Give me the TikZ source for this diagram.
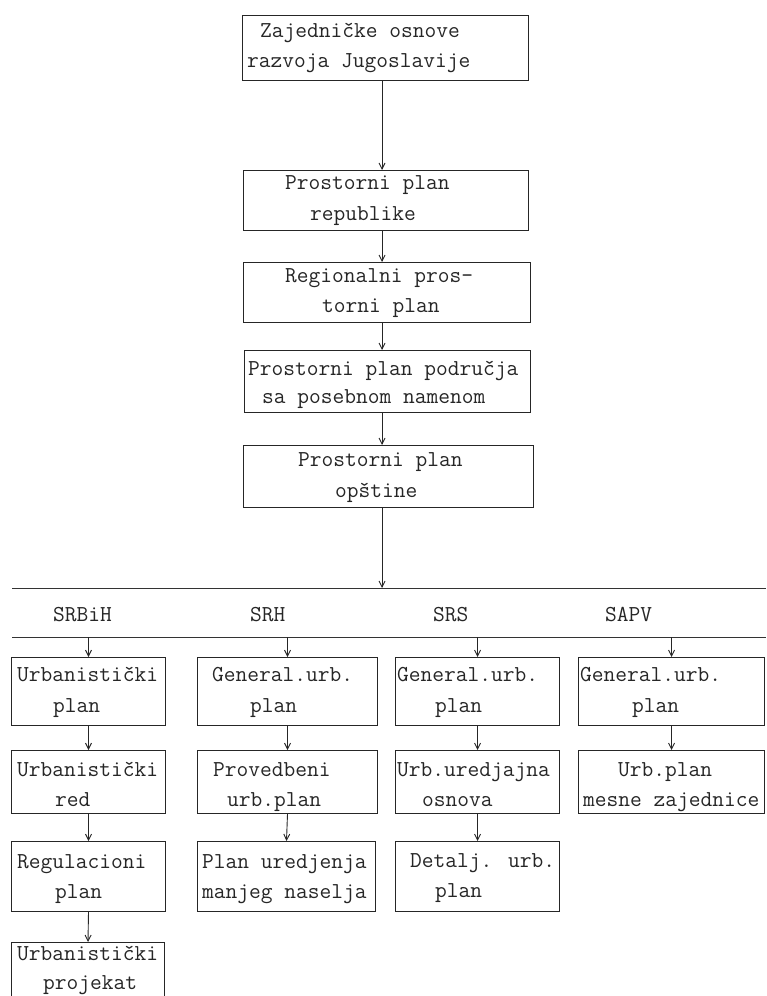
\documentclass[tikz,border=0pt]{standalone}
\usepackage{fontspec}
\usetikzlibrary{arrows.meta,calc}
\begin{document}
\begin{tikzpicture}[x=1pt,y=-1pt,
  box/.style={draw=black!85,line width=1pt,rectangle,inner sep=0pt,anchor=north west},
  txt/.style={anchor=base west,inner sep=0pt,text=black!85,font=\ttfamily\fontsize{22.8}{26}\selectfont},
  arr/.style={draw=black!85,line width=0.9pt,-{Straight Barb[length=6pt,width=6pt]}},
  rule/.style={draw=black!80,line width=1pt}]
\useasboundingbox (0,0) rectangle (766,996);
% top chain
\node[box,minimum width=286,minimum height=65] (b1) at (242,15) {};
\node[box,minimum width=285,minimum height=60] (b2) at (243,170) {};
\node[box,minimum width=287,minimum height=60] (b3) at (243,262) {};
\node[box,minimum width=286,minimum height=62] (b4) at (244,350) {};
\node[box,minimum width=290,minimum height=62] (b5) at (243,445) {};
\node[txt] (b1a) at (260,37) {Zajedničke osnove};
\node[txt] (b1b) at (247,67) {razvoja Jugoslavije};
\node[txt] (b2a) at (285,189) {Prostorni plan};
\node[txt] (b2b) at (310,220) {republike};
\node[txt] (b3a) at (285,282) {Regionalni pros-};
\node[txt] (b3b) at (322,312) {torni plan};
\node[txt] (b4a) at (248,375) {Prostorni plan područja};
\node[txt] (b4b) at (262,403) {sa posebnom namenom};
\node[txt] (b5a) at (298,466) {Prostorni plan};
\node[txt] (b5b) at (335,497) {opštine};
\coordinate (ax) at (382,0);
\draw[arr] (b1.south -| ax) -- (b2.north -| ax);
\draw[arr] (b2.south -| ax) -- (b3.north -| ax);
\draw[arr] (b3.south -| ax) -- (b4.north -| ax);
\draw[arr] (b4.south -| ax) -- (b5.north -| ax);
% rules
\coordinate (L1w) at (12,588);
\coordinate (L1e) at (766,588);
\coordinate (L2w) at (12,637);
\coordinate (L2e) at (766,637);
\draw[rule] (L1w) -- (L1e);
\draw[rule] (L2w) -- (L2e);
\draw[arr] (b5.south -| ax) -- (ax |- L1w);
% republic labels
\node[txt] (r1) at (53,621) {SRBiH};
\node[txt] (r2) at (250,621) {SRH};
\node[txt] (r3) at (433,621) {SRS};
\node[txt] (r4) at (605,621) {SAPV};
% column 1
\node[box,minimum width=154,minimum height=68] (c11) at (11,657) {};
\node[box,minimum width=154,minimum height=63] (c12) at (11,750) {};
\node[box,minimum width=154,minimum height=70] (c13) at (11,841) {};
\node[box,minimum width=153,minimum height=80] (c14) at (11,942) {};
\node[txt] (c11a) at (17,681) {Urbanistički};
\node[txt] (c11b) at (53,712) {plan};
\node[txt] (c12a) at (17,776) {Urbanistički};
\node[txt] (c12b) at (55,806) {red};
\node[txt] (c13a) at (17,868) {Regulacioni};
\node[txt] (c13b) at (55,898) {plan};
\node[txt] (c14a) at (17,960) {Urbanistički};
\node[txt] (c14b) at (43,989) {projekat};
% column 2
\node[box,minimum width=180,minimum height=68] (c21) at (197,657) {};
\node[box,minimum width=180,minimum height=63] (c22) at (197,750) {};
\node[box,minimum width=178,minimum height=70] (c23) at (197,841) {};
\node[txt] (c21a) at (212,681) {General.urb.};
\node[txt] (c21b) at (250,712) {plan};
\node[txt] (c22a) at (213,776) {Provedbeni};
\node[txt] (c22b) at (227,806) {urb.plan};
\node[txt] (c23a) at (202,868) {Plan uredjenja};
\node[txt] (c23b) at (202,898) {manjeg naselja};
% column 3
\node[box,minimum width=164,minimum height=68] (c31) at (395,657) {};
\node[box,minimum width=164,minimum height=63] (c32) at (395,750) {};
\node[box,minimum width=164,minimum height=70] (c33) at (395,841) {};
\node[txt] (c31a) at (397,681) {General.urb.};
\node[txt] (c31b) at (435,712) {plan};
\node[txt] (c32a) at (397,776) {Urb.uredjajna};
\node[txt] (c32b) at (422,806) {osnova};
\node[txt] (c33a) at (410,867) {Detalj. urb.};
\node[txt] (c33b) at (435,897) {plan};
% column 4
\node[box,minimum width=186,minimum height=68] (c41) at (578,657) {};
\node[box,minimum width=186,minimum height=63] (c42) at (578,750) {};
\node[txt] (c41a) at (580,681) {General.urb.};
\node[txt] (c41b) at (632,712) {plan};
\node[txt] (c42a) at (618,776) {Urb.plan};
\node[txt] (c42b) at (583,806) {mesne zajednice};
% column arrows
\foreach \c in {1,2,3,4}{
  \draw[arr] (c\c1.north |- L2w) -- (c\c1.north);
  \draw[arr] (c\c1.south) -- (c\c2.north);
}
\foreach \c in {1,2,3}{
  \draw[arr] (c\c2.south) -- (c\c3.north);
}
\draw[arr] (c13.south) -- (c14.north);
\end{tikzpicture}
\end{document}
